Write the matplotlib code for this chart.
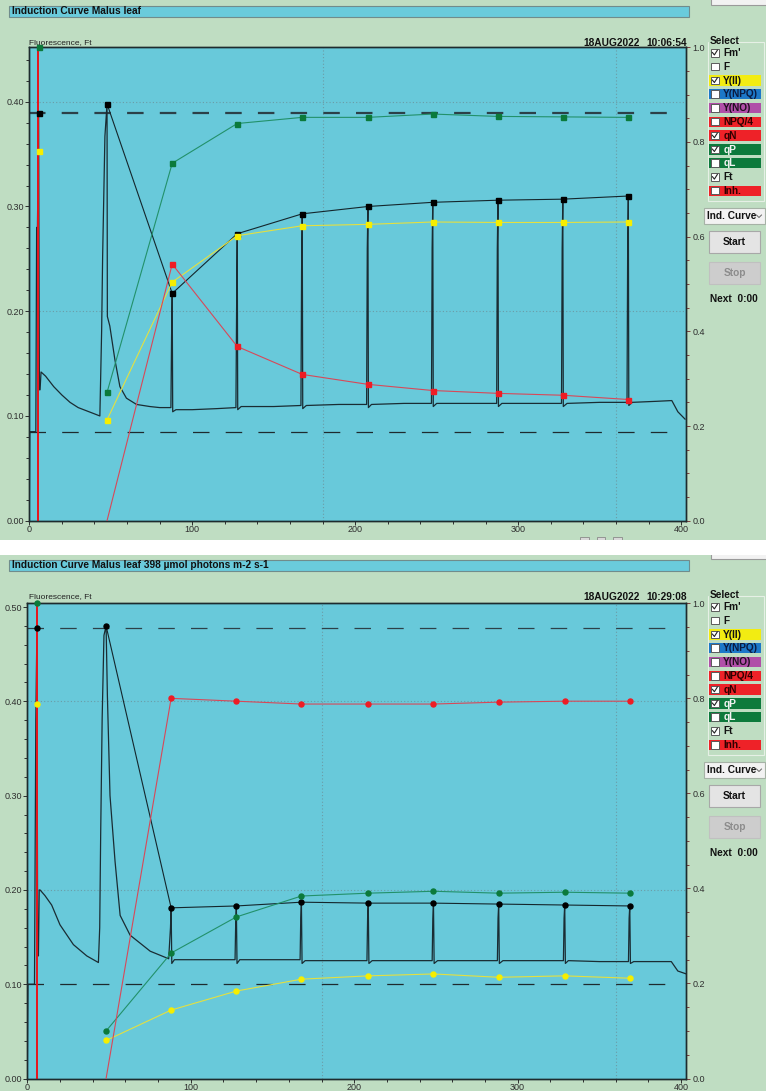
import matplotlib
matplotlib.use("Agg")
import matplotlib.pyplot as plt
from matplotlib import font_manager
from matplotlib.patches import Rectangle
from matplotlib.ticker import MultipleLocator, FormatStrFormatter

W, H = 766, 1091

names = {f.name for f in font_manager.fontManager.ttflist}
FONT = "Liberation Sans Narrow" if "Liberation Sans Narrow" in names else "Liberation Sans"
plt.rcParams["font.family"] = [FONT, "DejaVu Sans"]

BG = "#BFDDC2"
FACE = "#68C9DA"

# ---- data, panel 1 (10:06:54) ----
title_1 = "Induction Curve Malus leaf"
date_1, time_1 = "18AUG2022", "10:06:54"
pulse_t_1 = [5.7, 47.7, 87.7, 127.6, 167.5, 207.8, 247.6, 287.6, 327.4, 367.6]
fm_1 = [0.389, 0.398, 0.217, 0.274, 0.293, 0.300, 0.304, 0.306, 0.307, 0.310]
yii_1 = [0.781, 0.213, 0.504, 0.602, 0.623, 0.626, 0.631, 0.630, 0.630, 0.631]
qn_1 = [0.0, 0.0, 0.542, 0.368, 0.309, 0.288, 0.275, 0.269, 0.265, 0.256]
qp_1 = [1.0, 0.271, 0.755, 0.839, 0.852, 0.852, 0.859, 0.854, 0.853, 0.852]
fm_level_1, fo_level_1 = 0.389, 0.0845
ft_t_1 = [0.0, 0.3, 4.0, 4.5, 5.0, 5.7, 6.2, 6.6, 7.2, 10, 15, 20, 25, 30, 35, 40, 43.3,
          44.4, 45.0, 46.4, 47.7, 47.9, 49.4, 52.5, 55.6, 59.6, 65.8, 74.0, 80.0,
          86.9, 87.3, 87.7, 88.0, 90, 100, 115, 126.8,
          127.2, 127.6, 127.9, 130, 150, 166.7,
          167.1, 167.5, 167.8, 170, 190, 207.0,
          207.4, 207.8, 208.1, 210, 230, 246.8,
          247.2, 247.6, 247.9, 250, 270, 286.8,
          287.2, 287.6, 287.9, 290, 310, 326.6,
          327.0, 327.4, 327.7, 330, 350, 366.8,
          367.2, 367.6, 367.9, 370, 385, 394.3, 398.0, 402.4]
ft_v_1 = [0.0, 0.085, 0.085, 0.28, 0.28, 0.389, 0.125, 0.125, 0.142, 0.138, 0.128, 0.120,
          0.113, 0.108, 0.105, 0.102, 0.100,
          0.182, 0.252, 0.367, 0.398, 0.195, 0.186, 0.154, 0.128, 0.117, 0.111, 0.109, 0.108,
          0.108, 0.175, 0.217, 0.104, 0.106, 0.106, 0.107, 0.108,
          0.200, 0.274, 0.106, 0.109, 0.109, 0.110,
          0.240, 0.293, 0.107, 0.110, 0.111, 0.111,
          0.260, 0.300, 0.108, 0.111, 0.112, 0.112,
          0.260, 0.304, 0.109, 0.112, 0.112, 0.112,
          0.260, 0.306, 0.109, 0.112, 0.112, 0.112,
          0.260, 0.307, 0.109, 0.112, 0.113, 0.113,
          0.260, 0.310, 0.110, 0.113, 0.114, 0.1147, 0.104, 0.097]

# ---- data, panel 2 (10:29:08) ----
title_2 = "Induction Curve Malus leaf 398 µmol photons m-2 s-1"
date_2, time_2 = "18AUG2022", "10:29:08"
pulse_t_2 = [5.9, 48.2, 88.0, 127.9, 167.7, 208.6, 248.5, 288.4, 328.8, 368.6]
fm_2 = [0.478, 0.480, 0.181, 0.183, 0.187, 0.186, 0.186, 0.185, 0.184, 0.183]
yii_2 = [0.788, 0.080, 0.144, 0.184, 0.209, 0.216, 0.220, 0.213, 0.216, 0.211]
qn_2 = [0.0, 0.0, 0.800, 0.794, 0.788, 0.788, 0.788, 0.792, 0.794, 0.794]
qp_2 = [1.0, 0.100, 0.264, 0.340, 0.384, 0.390, 0.394, 0.390, 0.392, 0.390]
fm_level_2, fo_level_2 = 0.478, 0.1007
ft_t_2 = [0.0, 0.2, 0.4, 4.4, 4.8, 5.2, 5.9, 6.3, 6.8, 7.3, 7.8, 10.8, 14.9, 20.0, 28.2,
          36.4, 43.5, 44.3, 44.9, 45.8, 46.9, 48.2, 49.0, 50.6, 53.7, 56.8, 62.9, 75.2,
          86.5, 87.6, 88.0, 88.4, 90, 110, 127.1,
          127.5, 127.9, 128.3, 130, 150, 166.9,
          167.3, 167.7, 168.1, 170, 190, 207.8,
          208.2, 208.6, 209.0, 211, 230, 247.7,
          248.1, 248.5, 248.9, 251, 270, 287.6,
          288.0, 288.4, 288.8, 291, 310, 328.0,
          328.4, 328.8, 329.2, 331, 350, 367.8,
          368.2, 368.6, 369.0, 371, 385, 394.0, 398.0, 403.0]
ft_v_2 = [0.0, 0.053, 0.100, 0.100, 0.24, 0.38, 0.478, 0.16, 0.13, 0.20, 0.200, 0.194,
          0.184, 0.163, 0.142, 0.130, 0.123, 0.16, 0.26, 0.382, 0.47, 0.480, 0.406, 0.300,
          0.230, 0.173, 0.152, 0.135,
          0.127, 0.160, 0.181, 0.122, 0.126, 0.126, 0.126,
          0.165, 0.183, 0.122, 0.126, 0.126, 0.126,
          0.170, 0.187, 0.122, 0.125, 0.125, 0.125,
          0.170, 0.186, 0.122, 0.125, 0.125, 0.125,
          0.170, 0.186, 0.122, 0.125, 0.125, 0.125,
          0.170, 0.185, 0.122, 0.125, 0.125, 0.125,
          0.170, 0.184, 0.122, 0.125, 0.124, 0.124,
          0.170, 0.183, 0.122, 0.124, 0.124, 0.124, 0.114, 0.111]

# ---- side panel ----
sel_labels = ["Fm'", "F", "Y(II)", "Y(NPQ)", "Y(NO)", "NPQ/4", "qN", "qP", "qL", "Ft", "Inh."]
sel_colors = [None, None, "#F2EC12", "#1C78C8", "#B04FA8", "#EE2228", "#EE2228",
              "#0D7A3C", "#0D7A3C", None, "#EE2228"]
sel_text = ["#111", "#111", "#111", "#0A1A40", "#201020", "#300000", "#300000",
            "#F4F4F4", "#F4F4F4", "#111", "#300000"]
sel_checked = [1, 0, 1, 0, 0, 0, 1, 1, 0, 1, 0]


def px_rect(x0, y0, x1, y1):
    return [x0 / W, 1 - y1 / H, (x1 - x0) / W, (y1 - y0) / H]


def dashes(on_px, off_px, lw):
    return (0, (on_px * 0.72 / lw, off_px * 0.72 / lw))


def draw_ui(ui, dy, title, date, tm):
    # title bar
    ui.add_patch(Rectangle((9, dy + 5.5), 680, 11.5, fc="#6ACBDC", ec="#708C8C", lw=0.8))
    ui.text(12, dy + 11.3, title, fontsize=7.3, fontweight="bold", va="center", color="#111")
    # top-right button stub
    ui.add_patch(Rectangle((711, dy - 8), 56, 13, fc="#F2F2F2", ec="#9A9A9A", lw=0.8))
    # header texts
    ui.text(29, dy + 42.5, "Fluorescence, Ft", fontsize=6, va="center", color="#222")
    ui.text(640, dy + 42.5, date, fontsize=7.3, fontweight="bold", va="center", ha="right", color="#111")
    ui.text(687, dy + 42.5, tm, fontsize=7.3, fontweight="bold", va="center", ha="right", color="#111")
    # select group
    ui.add_patch(Rectangle((707.5, dy + 42), 56, 158.5, fc="none", ec="#E6F0E6", lw=0.8))
    ui.add_patch(Rectangle((709, dy + 37), 26, 7, fc=BG, ec="none"))
    ui.text(710, dy + 40.7, "Select", fontsize=7.3, fontweight="bold", va="center", color="#111")
    for i, lab in enumerate(sel_labels):
        yc = dy + 52.7 + i * 13.8
        if sel_colors[i]:
            ui.add_patch(Rectangle((709.3, yc - 5.2), 51.7, 10.4, fc=sel_colors[i], ec="none"))
        ui.add_patch(Rectangle((711, yc - 3.8), 7.6, 7.6, fc="white", ec="#5A5A5A", lw=0.7))
        if sel_checked[i]:
            ui.plot([712.4, 714.4, 717.3], [yc - 0.2, yc + 2.2, yc - 2.4], color="#222", lw=0.8)
        ui.text(723.3, yc + 0.3, lab, fontsize=7.3, fontweight="bold", va="center", color=sel_text[i])
    # dropdown
    ui.add_patch(Rectangle((703.5, dy + 208), 61.5, 16, fc="#F2F2F2", ec="#A6B2A6", lw=0.8))
    ui.text(707, dy + 216.3, "Ind. Curve", fontsize=7.3, fontweight="bold", va="center", color="#111")
    ui.plot([756.5, 759, 761.5], [dy + 215, dy + 217.5, dy + 215], color="#666", lw=0.7)
    # buttons
    ui.add_patch(Rectangle((709.3, dy + 231), 50.7, 21.5, fc="#E4E4E4", ec="#A8A8A8", lw=0.8))
    ui.text(734.6, dy + 242, "Start", fontsize=7.3, fontweight="bold", va="center", ha="center", color="#111")
    ui.add_patch(Rectangle((709.3, dy + 262), 50.7, 21.5, fc="#CDCDCD", ec="#C0C0C0", lw=0.8))
    ui.text(734.6, dy + 273, "Stop", fontsize=7.3, fontweight="bold", va="center", ha="center", color="#8C8C8C")
    ui.text(710, dy + 299, "Next  0:00", fontsize=7.3, fontweight="bold", va="center", color="#111")


def draw_panel(fig, rect, ytop, pulse_t, fm, yii, qn, qp, ft_t, ft_v,
               fm_level, fo_level, marker, fm_lw):
    ax = fig.add_axes(rect)
    ax.set_zorder(1)
    ax.set_facecolor(FACE)
    ax.set_xlim(0, 403)
    ax.set_ylim(0, ytop)
    ax2 = ax.twinx()
    ax2.set_zorder(2)
    ax2.patch.set_visible(False)
    ax2.set_ylim(0, 1.0)

    # grid
    for gy in (0.2, 0.4):
        ax.axhline(gy, color="#6B9CA6", lw=0.8, ls=(0, (1, 2)), zorder=1)
    for gx in (180, 360):
        ax.axvline(gx, color="#6B9CA6", lw=0.8, ls=(0, (1, 2)), zorder=1)

    # Fm / Fo reference lines
    ax.hlines(fm_level, 0, 393, color="#2C4048", lw=fm_lw, linestyles=[dashes(16.5, 16.2, fm_lw)], zorder=2)
    ax.hlines(fo_level, 0, 393, color="#1E2A2E", lw=0.9, linestyles=[dashes(16.5, 16.2, 0.9)], zorder=2)

    # fluorescence trace
    ax.plot(ft_t, ft_v, color="#1A2C33", lw=0.9, zorder=3)

    # cursor line
    ax.axvline(pulse_t[0] - 0.1, color="#E8141C", lw=1.4, zorder=4)

    ms = 3.6
    # Fm'
    ax.plot(pulse_t[1:], fm[1:], color="#14262C", lw=0.8, zorder=5)
    ax.plot(pulse_t, fm, ls="none", marker=marker, ms=ms, color="#000000", zorder=6)
    # parameters on right axis
    ax2.plot(pulse_t[1:], qp[1:], color="#22916A", lw=0.8, zorder=3)
    ax2.plot(pulse_t, qp, ls="none", marker=marker, ms=ms, color="#0B7A3B", zorder=4, clip_on=False)
    ax2.plot(pulse_t[1:], yii[1:], color="#E4E040", lw=0.8, zorder=3)
    ax2.plot(pulse_t, yii, ls="none", marker=marker, ms=ms, color="#F6EE00", zorder=4)
    ax2.plot(pulse_t[1:], qn[1:], color="#D84858", lw=0.8, zorder=3)
    ax2.plot(pulse_t[2:], qn[2:], ls="none", marker=marker, ms=ms, color="#EE1C24", zorder=4)

    # ticks
    ax.xaxis.set_major_locator(MultipleLocator(100))
    ax.xaxis.set_minor_locator(MultipleLocator(20))
    ax.yaxis.set_major_locator(MultipleLocator(0.1))
    ax.yaxis.set_minor_locator(MultipleLocator(0.02))
    ax.yaxis.set_major_formatter(FormatStrFormatter("%.2f"))
    ax2.yaxis.set_major_locator(MultipleLocator(0.2))
    ax2.yaxis.set_minor_locator(MultipleLocator(0.05))
    ax2.yaxis.set_major_formatter(FormatStrFormatter("%.1f"))
    ax.tick_params(which="major", direction="out", length=3, width=0.7, labelsize=6.5,
                   pad=1.0, colors="#2E2E2E")
    ax.tick_params(which="minor", direction="out", length=2, width=0.7, colors="#2E2E2E")
    ax.tick_params(axis="x", which="major", pad=0.3)
    ax2.tick_params(which="major", direction="out", length=3, width=0.7, labelsize=6.5,
                    pad=1.5, colors="#7A3C3C", labelcolor="#2E2E2E")
    ax2.tick_params(which="minor", direction="out", length=2, width=0.7, colors="#7A3C3C")
    for a in (ax, ax2):
        for s in a.spines.values():
            s.set_color("#1E2B2E")
            s.set_linewidth(1.0)
    return ax, ax2


def main():
    fig = plt.figure(figsize=(W / 100, H / 100), dpi=100)
    fig.patch.set_facecolor(BG)

    ui = fig.add_axes([0, 0, 1, 1])
    ui.set_zorder(-1)
    ui.set_xlim(0, W)
    ui.set_ylim(H, 0)
    ui.axis("off")

    draw_ui(ui, 0, title_1, date_1, time_1)
    # little buttons cut off at the bottom of the first screenshot
    for bx in (580, 596.5, 613):
        ui.add_patch(Rectangle((bx, 536.5), 8.5, 5, fc="#D8D8D8", ec="#8A8A8A", lw=0.6))
    ui.add_patch(Rectangle((0, 539.5), W, 15.5, fc="white", ec="none", zorder=5))
    draw_ui(ui, 554, title_2, date_2, time_2)

    draw_panel(fig, px_rect(29.3, 47.3, 686, 520.7), 0.452, pulse_t_1, fm_1, yii_1,
               qn_1, qp_1, ft_t_1, ft_v_1, fm_level_1, fo_level_1, "s", 1.6)
    draw_panel(fig, px_rect(27.3, 603.3, 686, 1078.5), 0.504, pulse_t_2, fm_2, yii_2,
               qn_2, qp_2, ft_t_2, ft_v_2, fm_level_2, fo_level_2, "o", 0.9)

    fig.savefig("out.png", dpi=100, facecolor=BG)


if __name__ == "__main__":
    main()
